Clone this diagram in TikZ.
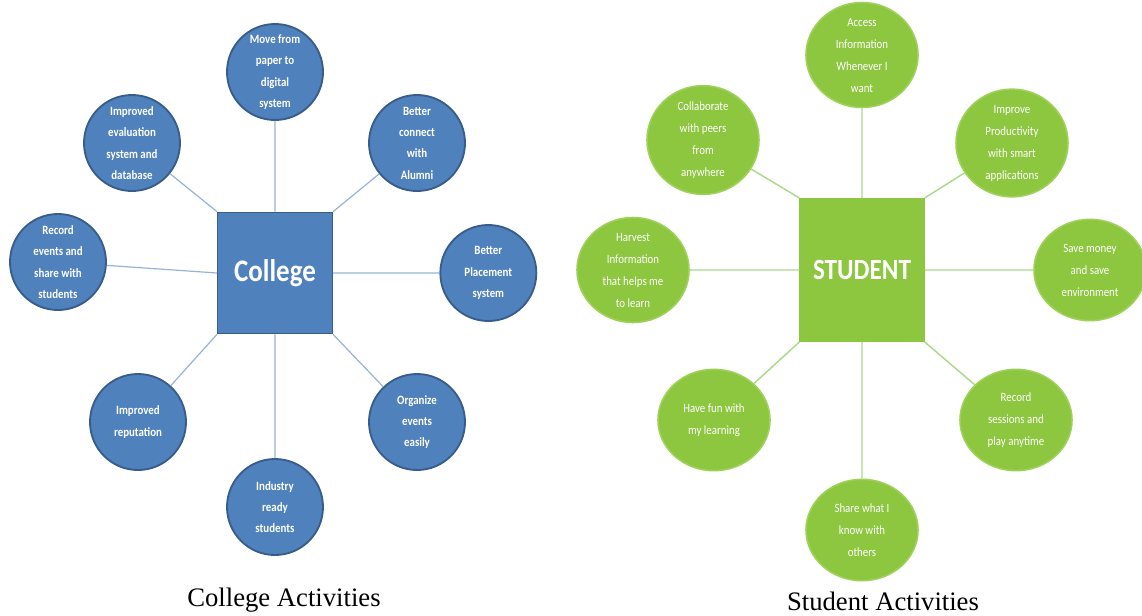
\documentclass[tikz,border=0pt]{standalone}
\usepackage{fontspec}
\setmainfont{Carlito}[FakeStretch=0.86]
\newfontfamily\capfont{Liberation Serif}
\usepackage{tikz}
\usetikzlibrary{positioning,shapes.geometric}

\definecolor{cblue}{HTML}{4F81BD}
\definecolor{cblueline}{HTML}{385D8A}
\definecolor{cbluelink}{HTML}{95B3D7}
\definecolor{sgreen}{HTML}{8DC63F}
\definecolor{sgreenline}{HTML}{9FD05A}
\definecolor{sgreenlink}{HTML}{ABD98A}

\tikzset{
  collhub/.style={rectangle,fill=cblue,draw=cblueline,line width=1pt,
    minimum width=86pt,minimum height=91pt,text=white,
    font=\bfseries\fontsize{23.5}{27}\selectfont},
  collbub/.style={circle,fill=cblue,draw=cblueline,line width=1.4pt,
    minimum size=72pt,inner sep=0pt,text=white,align=center,
    font=\bfseries\fontsize{9.5}{16}\selectfont},
  collink/.style={draw=cbluelink,line width=0.9pt},
  studhub/.style={rectangle,fill=sgreen,draw=sgreen,line width=1pt,
    minimum width=93pt,minimum height=107pt,text=white,
    font=\bfseries\fontsize{22}{25}\selectfont},
  studbub/.style={ellipse,fill=sgreen,draw=sgreenline,line width=1.2pt,
    minimum width=84pt,minimum height=76pt,inner sep=0pt,text=white,align=center,
    font=\fontsize{9.5}{16.5}\selectfont},
  studlink/.style={draw=sgreenlink,line width=1.1pt},
  caption/.style={font=\capfont\fontsize{20}{23}\selectfont}
}

\begin{document}
\begin{tikzpicture}[on grid]
   \useasboundingbox (0,0) rectangle (856.5pt,-461.25pt);
   % college side
   \node[collhub] (college) at (206.25pt,-204.75pt) {College};
   \node[collbub] (move)   [above=150.75pt of college] {Move from\\paper to\\digital\\system};
   \node[collbub] (eval)   [above left=97.5pt and 107.25pt of college] {Improved\\evaluation\\system and\\database};
   \node[collbub] (alumni) [above right=97.5pt and 106.5pt of college] {Better\\connect\\with\\Alumni};
   \node[collbub] (recev)  [above left=8.25pt and 162.75pt of college] {Record\\events and\\share with\\students};
   \node[collbub] (place)  [right=160pt of college] {Better\\Placement\\system};
   \node[collbub] (repu)   [below left=111.75pt and 102.75pt of college] {Improved\\reputation};
   \node[collbub] (indus)  [below=175.5pt of college] {Industry\\ready\\students};
   \node[collbub] (organ)  [below right=111.75pt and 106.5pt of college] {Organize\\events\\easily};
   \node[caption] (collcap) at (213pt,-450pt) {College Activities};

   \path[collink]
   (college.north) -- (move)
   (college.north west) -- (eval)
   (college.north east) -- (alumni)
   (college.west) -- (recev)
   (college.east) -- (place)
   (college.south west) -- (repu)
   (college.south) -- (indus)
   (college.south east) -- (organ);

   % student side
   \node[studhub] (student) at (646.5pt,-202.5pt) {STUDENT};
   \node[studbub] (access)  [above=161.25pt of student] {Access\\Information\\Whenever I\\want};
   \node[studbub] (collab)  [above left=97.5pt and 119.25pt of student] {Collaborate\\with peers\\from\\anywhere};
   \node[studbub] (improve) [above right=95.25pt and 112.5pt of student] {Improve\\Productivity\\with smart\\applications};
   \node[studbub] (harvest) [left=171.75pt of student] {Harvest\\Information\\that helps me\\to learn};
   \node[studbub] (save)    [right=171pt of student] {Save money\\and save\\environment};
   \node[studbub] (fun)     [below left=112.5pt and 111pt of student] {Have fun with\\my learning};
   \node[studbub] (recses)  [below right=112.5pt and 115.5pt of student] {Record\\sessions and\\play anytime};
   \node[studbub] (share)   [below=195pt of student] {Share what I\\know with\\others};
   \node[caption] (studcap) at (662.25pt,-450.75pt) {Student Activities};

   \path[studlink]
   (student.north) -- (access)
   (student.north west) -- (collab)
   (student.north east) -- (improve)
   (student.west) -- (harvest)
   (student.east) -- (save)
   (student.south west) -- (fun)
   (student.south) -- (share)
   (student.south east) -- (recses);
\end{tikzpicture}
\end{document}
